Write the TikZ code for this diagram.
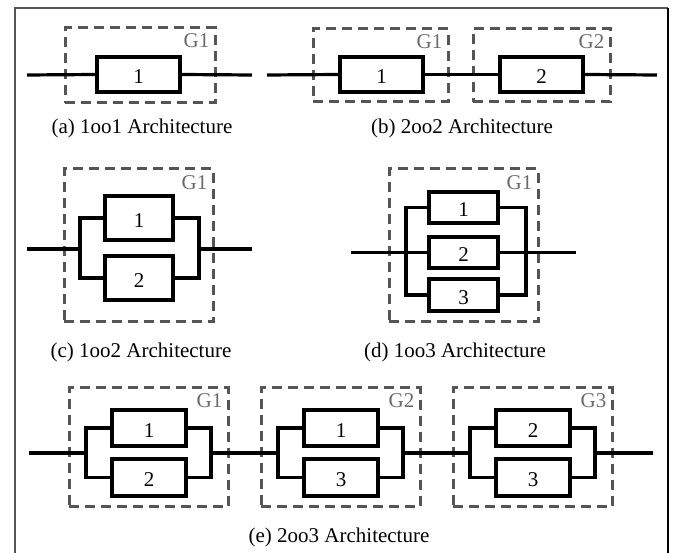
\documentclass[tikz,border=0pt]{standalone}
\usepackage{fontspec}
\setmainfont{Liberation Serif}
\usetikzlibrary{calc}
\definecolor{dashgray}{HTML}{555555}
\definecolor{labgray}{HTML}{6A6A6A}
\definecolor{framegray}{HTML}{555555}
\tikzset{
  every node/.style={font=\fontsize{21}{25}\selectfont},
  comp/.style={draw, line width=3.2pt, inner sep=0pt, fill=white, text height=19pt, text depth=0pt},
  grp/.style={draw=dashgray, line width=3pt, dash pattern=on 10pt off 6pt, inner sep=0pt},
  glab/.style={text=labgray, anchor=base east, inner sep=0pt},
  wire/.style={line width=3.2pt},
  captxt/.style={inner sep=0pt},
}
\begin{document}
\begin{tikzpicture}[x=1pt,y=-1pt]
\useasboundingbox (0,0) rectangle (673,553);
% frame
\draw[framegray, line width=2.2pt] (15,556) -- (15,8) -- (668,8);
\draw[black, line width=2.2pt] (668,8) -- (668,556);

% ---------- (a) ----------
\node[grp, minimum width=150pt, minimum height=75pt] (ga) at (140,65.5) {};
\node[glab] (gla) at ($(ga.north east)+(-7,21)$) {G1};
\coordinate (ain) at (27,75);
\coordinate (aout) at (252,75);
\node[comp, minimum width=83pt, minimum height=35pt] (a1) at (138.5,74.5) {1};
\draw[wire] (ain) -- (a1.west);
\draw[wire] (a1.east) -- (aout);
\node[captxt] (capa) at (142,128) {(a) 1oo1 Architecture};

% ---------- (b) ----------
\node[grp, minimum width=135pt, minimum height=73pt] (gb1) at (380.5,65.5) {};
\node[glab] (glb1) at ($(gb1.north east)+(-7,21)$) {G1};
\node[grp, minimum width=137pt, minimum height=73pt] (gb2) at (541.5,65.5) {};
\node[glab] (glb2) at ($(gb2.north east)+(-7,21)$) {G2};
\coordinate (bin) at (267,75);
\coordinate (bout) at (657,75);
\node[comp, minimum width=83pt, minimum height=35pt] (b1) at (381.5,74.5) {1};
\node[comp, minimum width=83pt, minimum height=35pt] (b2) at (541.5,74.5) {2};
\draw[wire] (bin) -- (b1.west);
\draw[wire] (b1.east) -- (b2.west);
\draw[wire] (b2.east) -- (bout);
\node[captxt] (capb) at (462,128) {(b) 2oo2 Architecture};

% ---------- (c) ----------
\node[grp, minimum width=149pt, minimum height=153pt] (gc) at (138.5,245.5) {};
\node[glab] (glc) at ($(gc.north east)+(-7,22)$) {G1};
\node[comp, minimum width=68pt, minimum height=44pt] (c1) at (139,218) {1};
\node[comp, minimum width=68pt, minimum height=44pt] (c2) at (139,278) {2};
\coordinate (cin) at (27,249);
\coordinate (cL) at (80,249);
\coordinate (cR) at (199,249);
\coordinate (cout) at (252,249);
\draw[wire] (c1.west) -| (cL) |- (c2.west);
\draw[wire] (c1.east) -| (cR) |- (c2.east);
\draw[wire] (cin) -- (cL);
\draw[wire] (cR) -- (cout);
\node[captxt] (capc) at (141,352) {(c) 1oo2 Architecture};

% ---------- (d) ----------
\node[grp, minimum width=149pt, minimum height=153pt] (gd) at (463.5,245.5) {};
\node[glab] (gld) at ($(gd.north east)+(-7,22)$) {G1};
\node[comp, minimum width=69pt, minimum height=31pt] (d1) at (463.5,207.5) {1};
\node[comp, minimum width=69pt, minimum height=31pt] (d2) at (463.5,252.5) {2};
\node[comp, minimum width=69pt, minimum height=32pt] (d3) at (463.5,295) {3};
\coordinate (din) at (351,252.5);
\coordinate (dL) at (406,252.5);
\coordinate (dR) at (526,252.5);
\coordinate (dout) at (576,252.5);
\draw[wire] (d1.west) -| (dL) |- (d3.west);
\draw[wire] (d1.east) -| (dR) |- (d3.east);
\draw[wire] (din) -- (d2.west);
\draw[wire] (d2.east) -- (dout);
\node[captxt] (capd) at (455,352) {(d) 1oo3 Architecture};

% ---------- (e) ----------
\foreach \i/\ox/\ta/\tb in {1/0/1/2, 2/192/1/3, 3/384/2/3}{
  \node[grp, minimum width=159pt, minimum height=119pt] (ge\i) at (148.5+\ox,447.5) {};
  \node[glab] (gle\i) at ($(ge\i.north east)+(-7,21)$) {G\i};
  \node[comp, minimum width=74pt, minimum height=36pt] (e\i a) at (149+\ox,428) {\ta};
  \node[comp, minimum width=74pt, minimum height=37pt] (e\i b) at (149+\ox,477.5) {\tb};
  \coordinate (e\i L) at (86+\ox,453);
  \coordinate (e\i R) at (211+\ox,453);
  \draw[wire] (e\i a.west) -| (e\i L) |- (e\i b.west);
  \draw[wire] (e\i a.east) -| (e\i R) |- (e\i b.east);
}
\coordinate (ein) at (29,453);
\coordinate (eout) at (653,453);
\draw[wire] (ein) -- (e1L);
\draw[wire] (e1R) -- (e2L);
\draw[wire] (e2R) -- (e3L);
\draw[wire] (e3R) -- (eout);
\node[captxt] (cape) at (339,537) {(e) 2oo3 Architecture};
\end{tikzpicture}
\end{document}
